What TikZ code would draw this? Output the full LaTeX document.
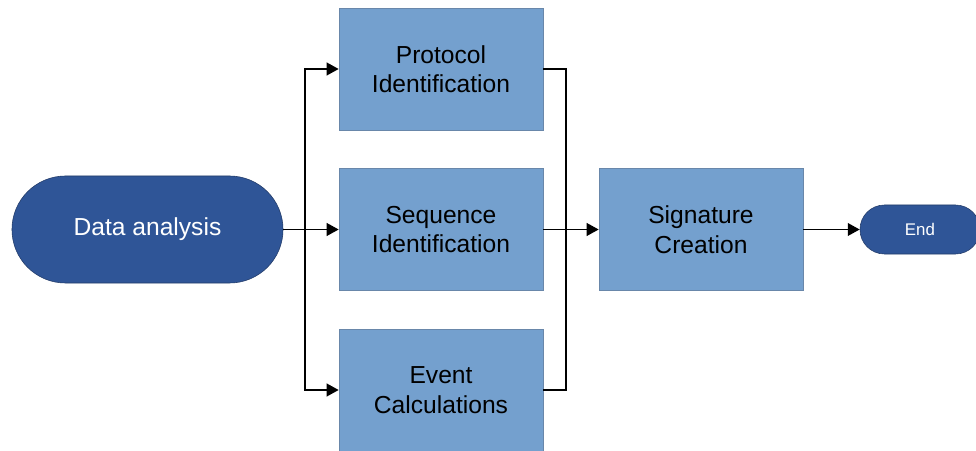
\documentclass[tikz,border=0pt]{standalone}
\usepackage{fontspec}
\setmainfont{Liberation Sans}
\usetikzlibrary{arrows.meta, calc}
\definecolor{flowdark}{RGB}{47, 85, 151}
\definecolor{flowdarkline}{RGB}{35, 60, 105}
\definecolor{flowlight}{RGB}{116, 160, 206}
\definecolor{flowlightline}{RGB}{105, 135, 170}

\begin{document}
\begin{tikzpicture}[x=0.025cm, y=-0.025cm,
    stepbox/.style={draw=flowlightline, fill=flowlight, minimum width=5.1cm,
        minimum height=3.05cm, inner sep=0pt, align=center,
        font=\fontsize{17.5}{21}\selectfont},
    terminal/.style={draw=flowdarkline, fill=flowdark, text=white,
        inner sep=0pt, align=center},
    link/.style={line width=1.3pt},
    arrow/.style={link, -{Triangle[length=8.5pt, width=9pt]}}]

% Marco de la imagen
\useasboundingbox (0,0) rectangle (976,451);

% === Inicio ===
\node[terminal, minimum width=6.775cm, minimum height=2.675cm,
    rounded corners=1.3375cm, font=\fontsize{17.5}{21}\selectfont]
    (analysis) at (147.5,229.5) {Data analysis};

% === Columna de pasos ===
\node[stepbox] (protocol) at (441,69) {Protocol\\Identification};
\node[stepbox] (sequence) at (441,229.5) {Sequence\\Identification};
\node[stepbox] (event) at (441,390) {Event\\Calculations};

% === Firma y fin ===
\node[stepbox] (signature) at (701,229.5) {Signature\\Creation};
\node[terminal, minimum width=3cm, minimum height=1.225cm,
    rounded corners=0.6125cm, font=\fontsize{12}{14}\selectfont]
    (finish) at (920,229.5) {End};

% Puntos de bifurcación y unión
\coordinate (split) at (305,229.5);
\coordinate (merge) at (566,229.5);

% Bifurcación
\draw[link] (analysis.east) -- (split);
\draw[arrow] (split) |- (protocol.west);
\draw[arrow] (split) -- (sequence.west);
\draw[arrow] (split) |- (event.west);

% Unión
\draw[link] (protocol.east) -| (merge);
\draw[link] (event.east) -| (merge);
\draw[arrow] (sequence.east) -- (signature.west);

% Fin
\draw[arrow] (signature.east) -- (finish.west);

\end{tikzpicture}
\end{document}
